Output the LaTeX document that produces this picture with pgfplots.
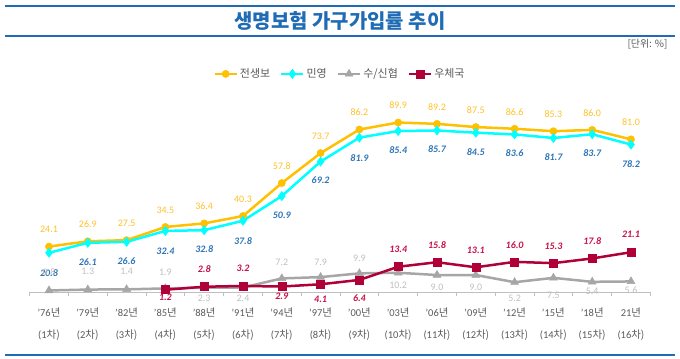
\documentclass[border=0pt]{standalone}
\usepackage{pgfplots}
\pgfplotsset{compat=1.18}
\usepackage{pgfplotstable}
\usepackage{fontspec}
\setmainfont{Carlito}
\newfontfamily\kr{Noto Sans CJK KR}

\definecolor{cOrange}{RGB}{255,192,0}
\definecolor{cOrangeLab}{RGB}{255,192,40}
\definecolor{cCyan}{RGB}{0,255,255}
\definecolor{cGray}{RGB}{166,166,166}
\definecolor{cRed}{RGB}{176,0,56}
\definecolor{cBlueLab}{RGB}{46,117,182}
\definecolor{cGrayLab}{RGB}{191,191,191}
\definecolor{cRedLab}{RGB}{200,16,72}
\definecolor{cTitle}{RGB}{31,108,181}
\definecolor{cText}{RGB}{89,89,89}

\pgfplotstableread{
x y o
0 24.1 17
1 26.9 17
2 27.5 17
3 34.5 17
4 36.4 17
5 40.3 17
6 57.8 17
7 73.7 17
8 86.2 17
9 89.9 17
10 89.2 17
11 87.5 17
12 86.6 17
13 85.3 17
14 86.0 17
15 81.0 17
}\tblA

\pgfplotstableread{
x y o
0 20.8 -20
1 26.1 -19
2 26.6 -19
3 32.4 -20
4 32.8 -19
5 37.8 -20
6 50.9 -19
7 69.2 -19
8 81.9 -20
9 85.4 -19
10 85.7 -19
11 84.5 -19
12 83.6 -19
13 81.7 -19
14 83.7 -19
15 78.2 -20
}\tblB

\pgfplotstableread{
x y o
0 0.8 18
1 1.3 18
2 1.4 18
3 1.9 16
4 2.3 -11
5 2.4 -11
6 7.2 16
7 7.9 15
8 9.9 15
9 10.2 -13
10 9.0 -12
11 9.0 -12
12 5.2 -16
13 7.5 -17
14 5.4 -10
15 5.6 -9
}\tblC

\pgfplotstableread{
x y o
3 1.2 -8
4 2.8 18
5 3.2 18
6 2.9 -10
7 4.1 -15
8 6.4 -18
9 13.4 17
10 15.8 17
11 13.1 17
12 16.0 17
13 15.3 17
14 17.8 17
15 21.1 18
}\tblD

\pgfplotsset{
  lbl/.style={
    nodes near coords={\pgfmathprintnumber[fixed,fixed zerofill,precision=1]{\pgfplotspointmeta}},
    visualization depends on={\thisrow{o} \as \myoff},
    every node near coord/.append style={anchor=center, yshift=\myoff*1bp, inner sep=0pt, #1}
  }
}

\begin{document}
\begin{tikzpicture}
\path[use as bounding box] (0,0) rectangle (680bp,359bp);
% title frame
\draw[cTitle, line width=2bp] (5bp,353bp) -- (675bp,353bp);
\draw[cTitle, line width=2bp] (5bp,323bp) -- (675bp,323bp);
\draw[cTitle, line width=2bp] (5bp,4bp) -- (675bp,4bp);
\node[font=\kr\bfseries\fontsize{20}{22}\selectfont, text=cTitle] at (340bp,338bp) {생명보험 가구가입률 추이};
\node[anchor=east, font=\kr\fontsize{10}{12}\selectfont, text=cText] at (671bp,315bp) {[단위: \%]};

\begin{axis}[
  at={(29.6bp,67bp)}, anchor=south west, scale only axis,
  width=620.8bp, height=188.5bp,
  xmin=-0.5, xmax=15.5, ymin=0, ymax=100,
  clip=false,
  axis y line=none, axis x line=bottom,
  x axis line style={cGrayLab, line width=1bp, -},
  tick align=outside,
  xtick={0,...,15}, major tick length=0pt,
  minor xtick={-0.5,0.5,...,15.5}, minor tick length=4bp,
  minor tick style={cGrayLab, line width=0.8bp},
  xticklabels={{'76\kr{년}\\(1\kr{차})},{'79\kr{년}\\(2\kr{차})},{'82\kr{년}\\(3\kr{차})},{'85\kr{년}\\(4\kr{차})},{'88\kr{년}\\(5\kr{차})},{'91\kr{년}\\(6\kr{차})},{'94\kr{년}\\(7\kr{차})},{'97\kr{년}\\(8\kr{차})},{'00\kr{년}\\(9\kr{차})},{'03\kr{년}\\(10\kr{차})},{'06\kr{년}\\(11\kr{차})},{'09\kr{년}\\(12\kr{차})},{'12\kr{년}\\(13\kr{차})},{'15\kr{년}\\(14\kr{차})},{'18\kr{년}\\(15\kr{차})},{21\kr{년}\\(16\kr{차})}},
  xticklabel style={align=center, font=\fontsize{10.5}{22}\selectfont, text=cText, yshift=-12bp},
  /pgf/number format/assume math mode=true,
  legend style={at={(0.5,1.157)}, anchor=center, legend columns=4, draw=none, fill=none,
    font=\kr\fontsize{11}{13}\selectfont, text=cText,
    /tikz/every even column/.append style={column sep=8bp}},
  legend image code/.code={\draw[#1] (0bp,0bp) -- (11bp,0bp) plot coordinates {(11bp,0bp)} -- (22bp,0bp);},
]
\addplot[cOrange, line width=2.5bp, mark=*, mark size=3.6bp, mark options={fill=cOrange, draw=cOrange, line width=0.5bp},
  lbl={text=cOrangeLab, font=\fontsize{10}{12}\selectfont}] table[x=x,y=y] {\tblA};
\addlegendentry{전생보}
\addplot[cCyan, line width=2.5bp, mark=diamond*, mark size=4.6bp, mark options={fill=cCyan, draw=cCyan, line width=0.5bp},
  lbl={text=cBlueLab, font=\bfseries\itshape\fontsize{10}{12}\selectfont}] table[x=x,y=y] {\tblB};
\addlegendentry{민영}
\addplot[cGray, line width=2.5bp, mark=triangle*, mark size=4.6bp, mark options={fill=cGray, draw=cGray, line width=0.5bp},
  lbl={text=cGrayLab, font=\fontsize{10}{12}\selectfont}] table[x=x,y=y] {\tblC};
\addlegendentry{수/신협}
\addplot[cRed, line width=2.5bp, mark=square*, mark size=4bp, mark options={fill=cRed, draw=cRed, line width=0.5bp},
  lbl={text=cRedLab, font=\bfseries\itshape\fontsize{10}{12}\selectfont}] table[x=x,y=y] {\tblD};
\addlegendentry{우체국}
\end{axis}
\end{tikzpicture}
\end{document}
